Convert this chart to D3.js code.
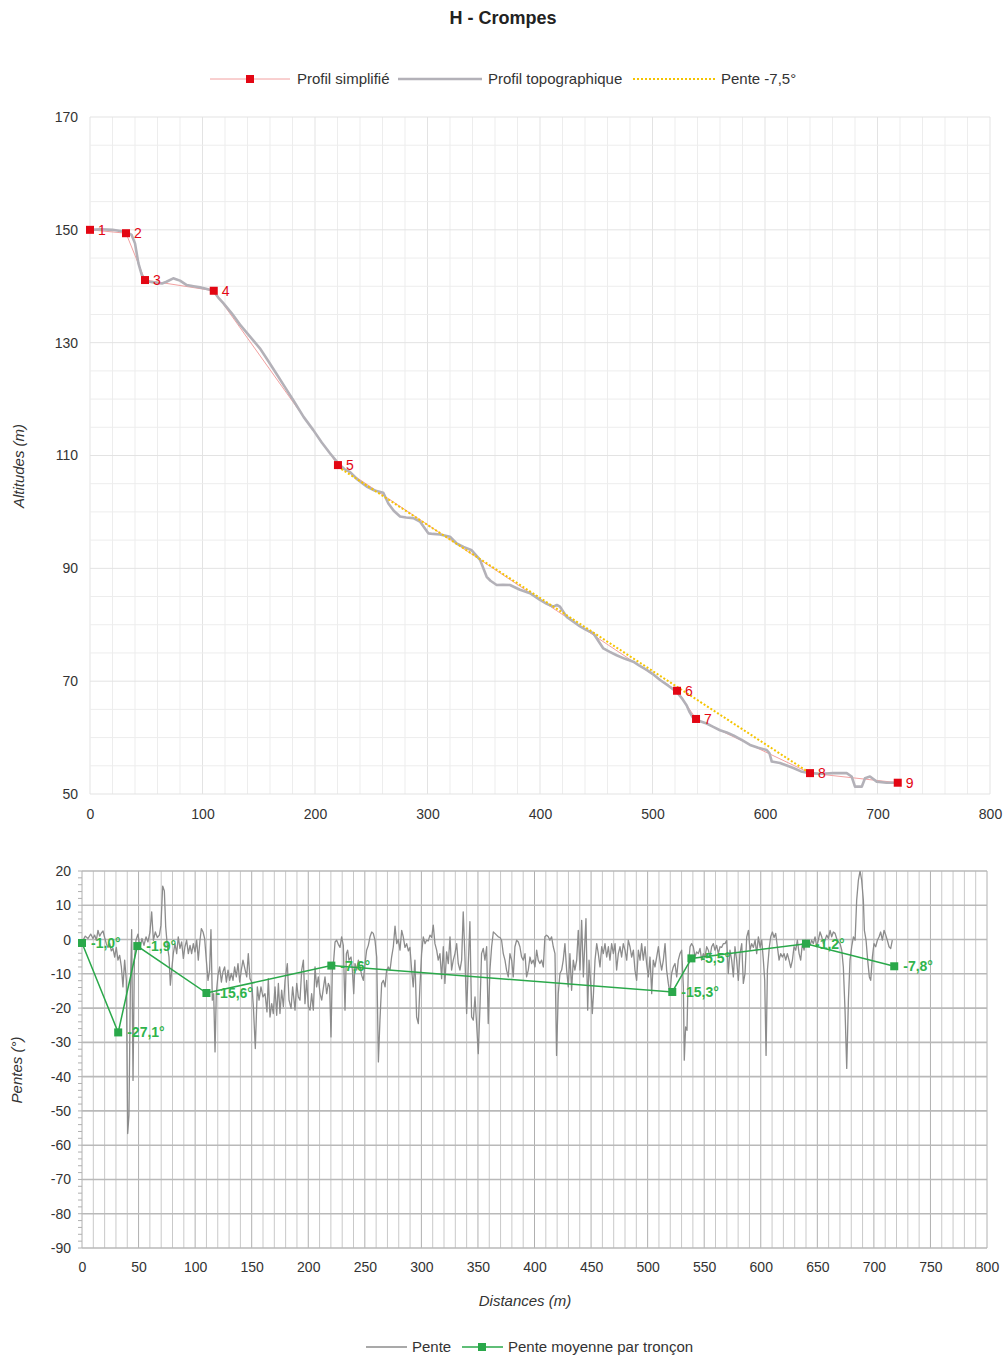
<!DOCTYPE html>
<html>
<head>
<meta charset="utf-8">
<script src="https://cdn.jsdelivr.net/npm/d3@7"></script>
<style>
  html, body { margin: 0; padding: 0; background: #fff; }
  svg { display: block; font-family: "Liberation Sans", Arial, sans-serif; }
</style>
</head>
<body>
<svg id="chart" width="1008" height="1357"></svg>
<script>
// ---- Profil topographique (distance m, altitude m)
const topoProfile = [
  [0,150.0],[10,150.1],[20,150.0],[32.6,149.6],[37,149.1],[40,147.6],[43,144.1],[46,142],[48.9,141.1],
  [53,140.8],[59.3,140.6],[64,140.5],[68,140.8],[74,141.4],[77,141.2],[80,141.0],[86,140.2],[92,140.0],
  [97.8,139.8],[104,139.5],[109.6,139.2],[114,138.0],[118.5,137.0],[126,135.2],[133.3,133.2],[140,131.6],
  [146,130.2],[151,129.0],[158,126.9],[166,124.4],[173,122.2],[180.7,119.8],[190,116.8],[198.5,114.5],
  [206,112.3],[213.3,110.4],[220.7,108.6],[226,107.6],[231,107.1],[238,105.7],[245.9,104.5],[253,103.8],
  [260.7,103.4],[265.2,101.5],[270,100.2],[275.6,99.2],[281,99.0],[287.4,98.9],[293.3,98.3],[300.7,96.2],
  [305,96.1],[311.1,96.0],[320,95.6],[325.9,94.4],[332,93.8],[339.3,93.2],[346.7,91.5],[352.6,88.5],
  [356,87.8],[361.5,87.05],[367,87.1],[373.3,87.05],[382.2,86.2],[391.1,85.6],[400,84.4],[406,83.7],
  [411.9,83.2],[415,83.5],[417.8,83.2],[423.7,81.4],[430,80.5],[435.6,79.7],[441,79.1],[447.4,78.5],
  [456.3,75.8],[462,75.2],[468.1,74.6],[475,74.0],[482.9,73.45],[488,72.8],[494.8,72.0],[500,71.3],
  [506.7,70.2],[514,69.2],[521.5,68.1],[526,67.0],[530.4,65.7],[533,64.5],[536.3,63.4],[541,63.0],
  [548.1,62.5],[554,61.9],[560,61.3],[566,60.9],[571.9,60.4],[580,59.5],[586.7,58.7],[594,58.2],
  [601.5,57.8],[604,57.2],[606,55.75],[613.3,55.5],[620,55.0],[625.2,54.6],[632,54.0],[640,53.7],
  [650,53.6],[660.7,53.7],[672.6,53.7],[677,53.1],[680,51.3],[686,51.3],[688.9,52.8],[693.3,53.1],
  [699.3,52.2],[708,52.0],[718.5,52.0]
];

// ---- Profil simplifié : points numérotés
const simpleDist = [0, 32, 48.9, 110, 220.4, 521.8, 538.7, 640, 718];
const simpleAlt  = [150.0, 149.4, 141.1, 139.2, 108.3, 68.3, 63.3, 53.7, 52.0];
const simpleLabels = ["1","2","3","4","5","6","7","8","9"];

// ---- Pente -7,5° (segment 5 → 8)
const penteDist = [220.4, 640];
const penteAlt  = [108.0, 53.7];

// ---- Pente moyenne par tronçon (°)
const meanSlope = [-1.0, -27.1, -1.9, -15.6, -7.6, -15.3, -5.5, -1.2, -7.8];
const meanSlopeLabels = ["-1,0°","-27,1°","-1,9°","-15,6°","-7,6°","-15,3°","-5,5°","-1,2°","-7,8°"];

// ---- Pente point par point (distance m, pente °)
const slopeSeries = [
  [0.9,-0.2],[2.9,1.0],[5.3,0.3],[7.7,1.6],[9.7,0.3],[11.2,1.3],[12.7,-0.2],[14.1,2.7],[15.6,1.0],[17.1,1.9],
  [18.6,2.5],[20.0,0.6],[21.5,-1.2],[23.0,-2.3],[24.5,-1.2],[25.9,-3.3],[27.4,-2.6],[28.9,-5.1],[30.3,-2.3],[31.8,-6.0],
  [33.3,-4.6],[34.8,-8.0],[36.2,-13.8],[37.7,-6.0],[39.2,-11.9],[40.4,-56.6],[41.5,-51.3],[42.7,-15.8],[43.9,2.9],[45.1,-41.1],
  [46.3,-6.0],[47.7,-0.2],[49.5,1.6],[51.3,-2.3],[53.0,0.3],[54.8,-1.7],[56.6,0.8],[58.3,-0.7],[60.1,2.2],[61.6,8.1],
  [63.1,-0.2],[64.8,2.2],[66.6,0.6],[68.4,1.3],[69.8,4.2],[71.3,15.6],[72.8,14.2],[74.0,3.7],[75.4,-1.7],[76.9,-5.1],
  [78.1,-13.3],[79.3,-8.9],[80.7,-4.1],[82.2,-1.2],[83.7,-4.1],[85.1,0.8],[86.6,-2.6],[88.1,-0.7],[89.6,-5.5],[91.0,-2.1],
  [92.5,-0.2],[94.0,-4.1],[95.5,-1.7],[96.9,-4.1],[98.4,-1.2],[99.9,-3.6],[101.4,-0.2],[102.8,-6.0],[104.3,-0.2],[105.5,3.2],
  [107.0,2.2],[108.4,0.3],[109.9,-6.0],[111.4,-11.9],[112.8,-8.9],[114.0,2.9],[115.2,-17.7],[116.4,-15.8],[117.6,-32.8],[118.7,-15.8],
  [120.2,-10.4],[121.7,-8.0],[123.2,-12.4],[124.6,-9.4],[126.1,-8.0],[127.6,-12.4],[129.1,-8.9],[130.5,-11.9],[132.0,-9.9],[133.5,-11.9],
  [134.9,-8.0],[136.4,-10.9],[137.9,-7.0],[139.4,-12.4],[140.8,-8.9],[142.3,-6.0],
  [145.6,-10.9],[147.0,-4.1],[148.5,-11.4],[150.0,-12.4],[151.5,-19.6],[153.2,-31.8],[155.0,-13.8],[156.5,-17.7],[158.2,-13.8],[160.0,-16.7],
  [161.8,-15.8],[163.5,-21.1],[164.7,-11.4],[166.2,-22.6],[167.7,-18.7],[169.1,-21.6],[170.6,-13.8],[172.1,-22.1],[173.6,-12.8],[175.0,-21.6],
  [176.5,-14.8],[178.0,-19.6],[179.5,-11.9],[181.5,-7.0],[183.0,-17.7],[184.8,-20.1],[186.2,-13.8],[188.3,-20.6],[189.8,-12.8],[191.2,-16.7],
  [192.7,-17.7],[194.2,-8.9],[195.7,-6.0],[197.1,-18.7],[198.6,-11.9],[200.1,-19.6],[201.6,-20.6],[203.0,-15.8],[204.5,-20.6],[206.0,-8.0],
  [207.4,-13.8],[208.9,-10.9],[210.4,-15.8],[211.9,-17.7],[213.3,-14.3],[214.8,-10.9],[216.3,-15.8],[217.8,-12.8],[218.9,-13.8],[220.1,-28.4],
  [221.3,-8.9],[222.5,-6.0],[223.7,-0.7],[225.1,-0.2],[226.6,-1.4],[228.1,-2.3],[229.5,0.8],[231.0,-1.7],[232.5,-20.6],[233.7,-4.1],
  [234.8,-3.1],[236.0,-6.0],[237.8,-5.1],[239.0,-8.9],[240.2,-15.8],[241.3,-7.0],[242.8,-8.9],[244.3,-6.0],[245.8,-8.0],[247.2,-10.4],
  [248.7,-11.9],[250.2,-7.0],[251.6,-3.1],[253.1,-1.7],[254.6,0.8],[256.1,2.2],[257.5,1.8],[259.0,-0.2],[260.5,-5.1],[262.0,-35.7],
  [263.4,-23.5],[264.9,-12.8],[266.4,-11.9],[267.9,-13.8],[269.3,-8.9],[270.8,-8.0],[272.3,-8.9],[273.7,-5.1],[275.2,-2.1],[276.7,3.9],
  [278.2,-1.2],[279.6,0.0],[281.1,-3.1],[282.6,2.7],[284.0,0.8],[285.5,-2.3],[287.0,-1.2],[288.5,-3.3],[289.9,-2.3],
  [291.4,-8.9],[292.8,-13.8],[294.3,-6.0],[295.8,-22.6],[297.3,-24.5],[298.7,-13.8],[300.2,-4.1],[301.7,0.8],[303.2,-1.2],[304.6,-0.2],
  [306.1,-0.4],[307.6,1.3],[309.1,0.6],[310.5,4.2],[312.0,-1.2],[313.5,-3.1],[314.9,-6.0],[316.4,-4.1],[317.9,-11.4],[319.4,-2.1],
  [320.8,-12.8],[322.3,-3.6],[323.8,-7.0],[325.3,0.8],[326.7,-8.9],[328.2,-6.0],[329.7,-4.1],[331.2,-1.2],[332.6,-7.0],[334.1,-8.9],
  [335.6,-6.0],[337.0,8.1],[338.5,-5.1],[340.0,-21.6],[341.5,-7.0],[342.9,5.2],[344.4,-22.6],[345.9,-23.5],[347.4,-16.7],[348.8,-24.5],
  [350.3,-33.3],[351.8,-19.6],[353.2,-4.1],[354.7,-2.6],[356.2,-6.0],[357.7,-2.1],[359.1,-24.5],[360.6,-8.9],[362.1,-2.1],[363.6,2.2],
  [365.0,1.8],[366.5,1.3],[368.0,0.8],[369.5,0.6],[370.9,-0.2],[372.4,-4.1],[373.9,-6.0],[375.3,-8.9],[376.8,-10.9],[378.3,-4.1],
  [379.8,-6.0],[381.2,-10.9],[382.7,-2.1],[384.2,-0.2],[385.7,-0.7],[387.1,-2.1],[388.6,-5.1],[390.1,-6.0],[391.6,-4.1],[393.0,-10.9],
  [394.5,-8.9],[396.0,-5.1],[397.4,-7.0],[398.9,-6.0],[400.4,-8.0],[401.9,-3.1],[403.3,-6.0],[404.8,-7.0],[406.3,-6.0],[407.8,-8.0],
  [409.2,0.8],[410.7,1.3],[412.2,0.8],[413.6,-0.2],[415.1,0.8],[416.6,-2.1],[418.1,-4.1],[419.5,-33.8],[421.0,-15.8],[422.5,-9.9],
  [424.0,-8.9],[425.4,-6.0],[426.9,-1.2],[428.4,-8.9],[429.9,-13.8],[431.3,-4.1],[432.8,-14.8],[434.3,-6.0],[435.7,-8.9],
  [437.3,-6.0],[438.7,2.7],[440.2,-8.9],[441.7,5.6],[443.2,-10.9],[444.6,-0.2],[445.5,6.1],[447.0,-20.6],[448.2,-6.0],[449.9,-13.8],
  [451.1,-21.6],[452.0,-16.7],[453.5,-6.0],[455.0,-1.2],[456.4,-4.1],[457.9,-8.0],[459.4,-2.1],[460.8,-4.1],[462.3,-1.2],[463.8,-5.1],
  [465.3,-2.1],[466.7,-6.0],[468.2,-1.2],[469.7,-4.1],[471.2,-1.2],[472.6,-8.9],[474.1,-4.1],[475.6,-2.1],[477.0,-5.1],[478.5,-1.2],
  [480.0,-3.1],[481.5,-6.0],[482.9,-0.2],[484.4,-2.1],[485.9,-5.1],[487.4,-3.1],[488.8,-8.9],[490.3,-11.9],[491.8,-3.1],[493.3,-6.0],
  [494.7,-1.2],[496.2,-6.0],[497.7,-2.1],[499.1,-7.0],[500.6,-10.9],[502.1,-5.1],[503.6,-15.8],[505.0,-6.0],[506.5,-8.0],[508.0,-5.1],
  [509.5,-2.1],[510.9,-6.0],[512.4,-8.9],[513.9,-6.0],[515.4,-1.2],[516.8,-8.9],[518.3,-12.8],[519.8,-15.8],[521.2,-9.9],[522.7,-8.0],
  [524.2,-7.0],[525.7,-10.9],[527.1,-6.0],[528.6,-4.1],[530.1,-3.1],[531.6,-13.8],[532.4,-35.2],[533.6,-25.5],[534.8,-26.5],[536.0,-8.0],
  [537.5,-2.1],[538.9,-1.2],[540.4,-2.1],[541.9,-5.1],[543.3,-3.6],[544.8,-4.1],[546.3,-2.6],[547.8,-6.0],[549.2,-4.1],[550.7,-5.1],
  [552.2,-2.1],[553.7,-3.1],[555.1,-5.1],[556.6,-2.1],[558.1,-1.2],[559.5,-3.1],[561.0,-1.7],[562.5,-4.1],[564.0,-2.1],[565.4,-2.3],
  [566.9,-1.2],[568.4,-1.2],[569.9,-0.2],[571.3,-9.9],[572.8,-3.1],[574.3,-6.0],[575.8,-10.9],[577.2,-2.1],[578.7,-6.0],[580.2,-11.9],
  [581.6,-4.1],[583.2,-1.2],[584.6,-12.8],[586.1,-9.9],[587.6,0.8],[589.1,2.7],[590.5,-3.1],[592.0,-1.2],[593.5,-2.3],[595.0,-0.2],
  [596.4,-4.1],[597.9,0.8],[599.4,-2.3],[600.9,-0.2],[602.3,-6.0],[603.5,-11.9],[604.7,-33.8],[605.9,-8.9],[607.6,-2.1],[608.8,0.8],
  [610.3,2.2],[611.8,0.6],[613.2,1.8],[614.7,-2.1],[616.2,-6.0],[617.6,-4.1],[619.1,-5.1],[620.6,-4.1],[622.1,-6.0],[623.5,-4.1],
  [625.0,-6.0],[626.5,-8.2],[628.0,-6.0],[629.4,-2.1],[630.9,-3.1],[632.4,-0.2],[633.9,-4.1],[635.3,-6.0],[636.8,-1.2],[638.3,-3.1],
  [639.7,-0.2],[642.1,-1.2],[643.6,-1.7],[645.0,-0.2],[646.5,-1.2],[648.0,0.8],[649.5,-2.1],[650.9,-0.2],[652.4,2.2],[653.9,0.8],
  [655.4,-1.2],[656.8,-0.2],[658.3,1.3],[659.8,0.3],[661.3,2.7],[662.7,0.8],[664.2,2.2],[665.7,1.8],[667.1,0.3],[668.6,-0.7],
  [670.1,-1.2],[671.6,-3.1],[673.0,-8.0],[674.5,-20.6],[676.0,-37.6],[677.5,-17.7],[678.9,-6.0],[680.4,-2.1],[681.9,0.8],[683.4,-0.2],
  [684.8,11.5],[686.3,17.3],[687.8,20.0],[689.2,17.3],[690.7,11.5],[691.6,2.7],[693.1,-0.2],[694.5,-6.0],[696.0,-10.9],[697.2,-11.9],
  [698.7,-5.1],[700.1,-1.2],[701.6,-2.1],[703.1,-0.2],[704.6,0.8],[706.0,2.2],[707.5,-0.2],[709.0,2.7],[710.5,1.3],[711.9,-0.2],
  [713.4,-2.1],[714.9,-2.6],[716.3,-0.2]
];

// ---- Axis ticks
const topXTicks = [0,100,200,300,400,500,600,700,800];
const topYTicks = [50,70,90,110,130,150,170];
const botXTicks = d3.range(0, 801, 50);
const botYTicks = d3.range(-90, 21, 10);

const svg = d3.select("#chart");
const C = {
  red: "#e30613", redLine: "#f2a0a0", topo: "#b3b1b8", yellow: "#f5c400",
  slope: "#8c8c8c", green: "#2aa84a", greenText: "#2fb44c",
  gridLight: "#ededed", gridTop: "#e3e3e3", gridBot: "#c9c9c9", gridBotH: "#b9b9b9",
  text: "#333"
};
const plainNum = d => String(d);   // hyphen-minus, as printed on the axes

// Title
svg.append("text").attr("x", 503).attr("y", 24).attr("text-anchor", "middle")
  .attr("font-size", 18).attr("font-weight", "bold").attr("fill", "#222").text("H - Crompes");

// ================= Top chart: altitudes =================
const xT = d3.scaleLinear().domain([0, 800]).range([90, 990]);
const yT = d3.scaleLinear().domain([50, 170]).range([794, 117]);
const gT = svg.append("g");

// grid
gT.append("g").selectAll("line").data(d3.range(0, 801, 20)).join("line")
  .attr("x1", d => xT(d)).attr("x2", d => xT(d)).attr("y1", yT(170)).attr("y2", yT(50))
  .attr("stroke", d => d % 100 === 0 ? C.gridTop : C.gridLight).attr("stroke-width", 1);
gT.append("g").selectAll("line").data(d3.range(50, 171, 5)).join("line")
  .attr("x1", xT(0)).attr("x2", xT(800)).attr("y1", d => yT(d)).attr("y2", d => yT(d))
  .attr("stroke", d => (d - 50) % 20 === 0 ? C.gridTop : C.gridLight).attr("stroke-width", 1);

// axes labels
const axTX = gT.append("g").attr("transform", `translate(0,${yT(50)})`)
  .call(d3.axisBottom(xT).tickValues(topXTicks).tickFormat(plainNum).tickSize(0).tickPadding(15));
const axTY = gT.append("g").attr("transform", `translate(${xT(0)},0)`)
  .call(d3.axisLeft(yT).tickValues(topYTicks).tickFormat(plainNum).tickSize(0).tickPadding(12));
[axTX, axTY].forEach(a => {
  a.select(".domain").remove();
  a.selectAll("text").attr("font-size", 14).attr("fill", C.text).attr("font-family", "Liberation Sans, Arial, sans-serif");
});

svg.append("text").attr("transform", `translate(24,466) rotate(-90)`).attr("text-anchor", "middle")
  .attr("font-size", 15).attr("font-style", "italic").attr("fill", C.text).text("Altitudes (m)");

// simplified profile line
const simplePts = simpleDist.map((d, i) => [d, simpleAlt[i]]);
const lineT = d3.line().x(d => xT(d[0])).y(d => yT(d[1]));
gT.append("path").datum(simplePts).attr("d", lineT).attr("fill", "none")
  .attr("stroke", C.redLine).attr("stroke-width", 1);

// topographic profile
gT.append("path").datum(topoProfile).attr("d", lineT).attr("fill", "none")
  .attr("stroke", C.topo).attr("stroke-width", 2.6).attr("stroke-linejoin", "round");

// slope line -7,5°
gT.append("path").datum(penteDist.map((d, i) => [d, penteAlt[i]])).attr("d", lineT)
  .attr("fill", "none").attr("stroke", C.yellow).attr("stroke-width", 2).attr("stroke-dasharray", "2,2");

// simplified profile markers + numbers
gT.append("g").selectAll("rect").data(simplePts).join("rect")
  .attr("x", d => xT(d[0]) - 4).attr("y", d => yT(d[1]) - 4).attr("width", 8).attr("height", 8)
  .attr("fill", C.red);
gT.append("g").selectAll("text").data(simplePts).join("text")
  .attr("x", d => xT(d[0]) + 8).attr("y", d => yT(d[1]) + 5)
  .attr("font-size", 14).attr("fill", C.red).text((d, i) => simpleLabels[i]);

// top legend
const lgT = svg.append("g").attr("font-size", 15).attr("fill", C.text);
lgT.append("line").attr("x1", 210).attr("x2", 290).attr("y1", 79).attr("y2", 79).attr("stroke", C.redLine).attr("stroke-width", 1);
lgT.append("rect").attr("x", 246).attr("y", 75).attr("width", 8).attr("height", 8).attr("fill", C.red);
lgT.append("text").attr("x", 297).attr("y", 84).text("Profil simplifié");
lgT.append("line").attr("x1", 398).attr("x2", 482).attr("y1", 79).attr("y2", 79).attr("stroke", C.topo).attr("stroke-width", 2.6);
lgT.append("text").attr("x", 488).attr("y", 84).text("Profil topographique");
lgT.append("line").attr("x1", 633).attr("x2", 715).attr("y1", 79).attr("y2", 79).attr("stroke", C.yellow).attr("stroke-width", 2).attr("stroke-dasharray", "2,2");
lgT.append("text").attr("x", 721).attr("y", 84).text("Pente -7,5°");

// ================= Bottom chart: pentes =================
const xB = d3.scaleLinear().domain([0, 800]).range([82, 987]);
const yB = d3.scaleLinear().domain([-90, 20]).range([1248, 871]);
const gB = svg.append("g");

gB.append("g").selectAll("line").data(d3.range(0, 801, 10)).join("line")
  .attr("x1", d => xB(d)).attr("x2", d => xB(d)).attr("y1", yB(20)).attr("y2", yB(-90))
  .attr("stroke", d => d % 50 === 0 ? "#b0b0b0" : C.gridBot).attr("stroke-width", 1);
gB.append("g").selectAll("line").data(botYTicks).join("line")
  .attr("x1", xB(0)).attr("x2", xB(800)).attr("y1", d => yB(d)).attr("y2", d => yB(d))
  .attr("stroke", C.gridBotH).attr("stroke-width", 1.6);
// minor ticks on the left axis
gB.append("g").selectAll("line").data(d3.range(-90, 21, 2)).join("line")
  .attr("x1", xB(0) - 4).attr("x2", xB(0)).attr("y1", d => yB(d)).attr("y2", d => yB(d))
  .attr("stroke", "#b0b0b0").attr("stroke-width", 1);

const axBX = gB.append("g").attr("transform", `translate(0,${yB(-90)})`)
  .call(d3.axisBottom(xB).tickValues(botXTicks).tickFormat(plainNum).tickSize(0).tickPadding(14));
const axBY = gB.append("g").attr("transform", `translate(${xB(0)},0)`)
  .call(d3.axisLeft(yB).tickValues(botYTicks).tickFormat(plainNum).tickSize(0).tickPadding(11));
[axBX, axBY].forEach(a => {
  a.select(".domain").remove();
  a.selectAll("text").attr("font-size", 14).attr("fill", C.text).attr("font-family", "Liberation Sans, Arial, sans-serif");
});

svg.append("text").attr("x", 525).attr("y", 1306).attr("text-anchor", "middle")
  .attr("font-size", 15).attr("font-style", "italic").attr("fill", C.text).text("Distances (m)");
svg.append("text").attr("transform", `translate(22,1070) rotate(-90)`).attr("text-anchor", "middle")
  .attr("font-size", 15).attr("font-style", "italic").attr("fill", C.text).text("Pentes (°)");

// clip for slope line
svg.append("defs").append("clipPath").attr("id", "clipB").append("rect")
  .attr("x", xB(0)).attr("y", yB(20)).attr("width", xB(800) - xB(0)).attr("height", yB(-90) - yB(20));

const lineB = d3.line().x(d => xB(d[0])).y(d => yB(d[1]));
gB.append("path").datum(slopeSeries).attr("d", lineB).attr("fill", "none")
  .attr("clip-path", "url(#clipB)")
  .attr("stroke", C.slope).attr("stroke-width", 1.3).attr("stroke-linejoin", "round");

const meanPts = simpleDist.map((d, i) => [d, meanSlope[i]]);
gB.append("path").datum(meanPts).attr("d", lineB).attr("fill", "none")
  .attr("stroke", C.green).attr("stroke-width", 1.5);
gB.append("g").selectAll("rect").data(meanPts).join("rect")
  .attr("x", d => xB(d[0]) - 4).attr("y", d => yB(d[1]) - 4).attr("width", 8).attr("height", 8)
  .attr("fill", C.green);
gB.append("g").selectAll("text").data(meanPts).join("text")
  .attr("x", d => xB(d[0]) + 9).attr("y", d => yB(d[1]) + 5)
  .attr("font-size", 14).attr("font-weight", "bold").attr("fill", C.greenText)
  .text((d, i) => meanSlopeLabels[i]);

// bottom legend
const lgB = svg.append("g").attr("font-size", 15).attr("fill", C.text);
lgB.append("line").attr("x1", 366).attr("x2", 407).attr("y1", 1347).attr("y2", 1347).attr("stroke", C.slope).attr("stroke-width", 1.5);
lgB.append("text").attr("x", 412).attr("y", 1352).text("Pente");
lgB.append("line").attr("x1", 462).attr("x2", 503).attr("y1", 1347).attr("y2", 1347).attr("stroke", C.green).attr("stroke-width", 1.5);
lgB.append("rect").attr("x", 478).attr("y", 1343).attr("width", 8).attr("height", 8).attr("fill", C.green);
lgB.append("text").attr("x", 508).attr("y", 1352).text("Pente moyenne par tronçon");
</script>
</body>
</html>
